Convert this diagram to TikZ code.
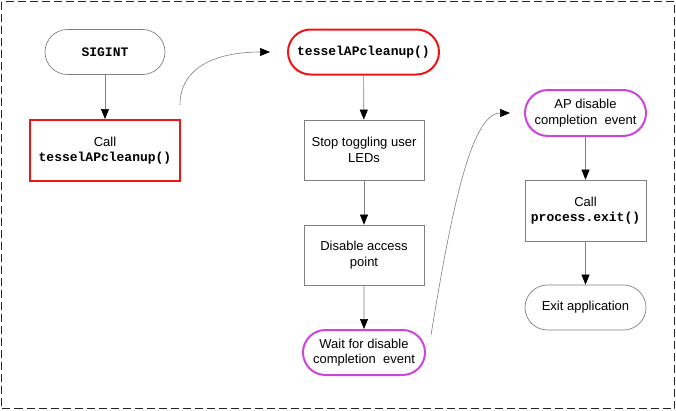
\documentclass[tikz,border=0pt]{standalone}
\usepackage{fontspec}
\setmainfont{Liberation Sans}
\setmonofont{Liberation Mono}
\definecolor{stepgray}{RGB}{128,128,128}
\definecolor{callred}{RGB}{240,20,20}
\definecolor{eventpurple}{RGB}{204,68,221}
\usetikzlibrary{arrows.meta,positioning,shapes.misc}

\begin{document}
\begin{tikzpicture}[x=1pt,y=-1pt,
    font=\fontsize{13}{15.5}\selectfont,
    base/.style={draw=stepgray,line width=0.7pt,align=center,inner sep=0pt,minimum width=120pt},
    stepbox/.style={base,rectangle,minimum height=60pt},
    term/.style={base,rounded rectangle,minimum height=45pt},
    redline/.style={draw=callred,line width=2pt},
    purpleline/.style={draw=eventpurple,line width=2pt},
    flow/.style={draw=stepgray,line width=0.6pt,-{Triangle[length=10pt,width=8pt,black]}}]
    \useasboundingbox (0,0) rectangle (676,410);
    % Border
    \draw[black!85,line width=1.6pt,dash pattern=on 8pt off 4pt] (1.5,1.5) rectangle (674.5,408.5);

    % SIGINT handler
    \node[term] (sigint) at (105,52) {\ttfamily\bfseries SIGINT};
    \node[stepbox,redline,minimum width=150pt,minimum height=61pt] (callcleanup) at (105,150.5)
        {Call\\\ttfamily\bfseries tesselAPcleanup()};
    \draw[flow] (sigint) -- (callcleanup);

    % Cleanup function
    \node[term,redline,minimum width=151pt] (cleanup) at (363.5,52) {\ttfamily\bfseries tesselAPcleanup()};
    \node[stepbox] (stopleds) at (364,150) {Stop toggling user\\LEDs};
    \node[stepbox] (disableap) at (364,255) {Disable access\\point};
    \node[term,purpleline,minimum width=122pt] (waitevent) at (364,352.5) {Wait for disable\\completion\ \ event};
    \draw[flow] (cleanup) -- (stopleds);
    \draw[flow] (stopleds) -- (disableap);
    \draw[flow] (disableap) -- (waitevent);

    % Completion event
    \node[term,purpleline,minimum width=121pt,minimum height=46pt] (apevent) at (585.5,113) {AP disable\\completion\ \ event};
    \node[stepbox,minimum width=121pt,minimum height=61pt] (callexit) at (585.5,210.5)
        {Call\\\ttfamily\bfseries process.exit()};
    \node[term,minimum width=121pt] (exitapp) at (585.5,307.5) {Exit application};
    \draw[flow] (apevent) -- (callexit);
    \draw[flow] (callexit) -- (exitapp);

    % Jumps between columns
    \coordinate (jumpa) at (180,105);
    \coordinate (jumpb) at (270,52);
    \coordinate (jumpc) at (431,335);
    \coordinate (jumpd) at (510,113);
    \draw[flow] (jumpa) .. controls (180,65) and (220,52) .. (jumpb);
    \draw[flow] (jumpc) .. controls (450,220) and (470,113) .. (jumpd);
\end{tikzpicture}
\end{document}
